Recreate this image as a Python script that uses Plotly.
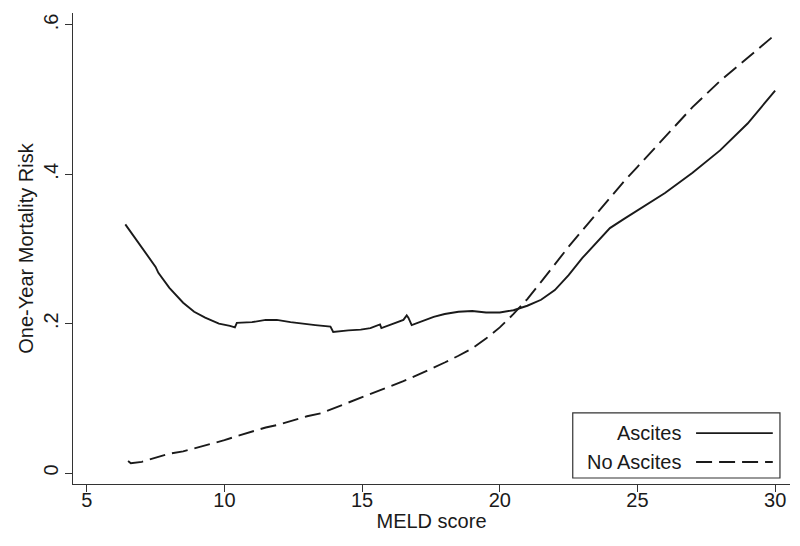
import plotly.graph_objects as go

# MELD score vs one-year mortality risk
meld_asc = [6.4, 6.8, 7.2, 7.5, 7.6, 8.0, 8.5, 8.9, 9.3, 9.8, 10.2, 10.38, 10.45, 11.0, 11.5,
            11.9, 12.4, 12.8, 13.3, 13.85, 13.95, 14.5, 14.95, 15.3, 15.65, 15.7, 16.1, 16.5,
            16.62, 16.68, 16.8, 17.2, 17.6, 18.0, 18.5, 19.0, 19.5, 20.0, 20.5, 21.0, 21.5,
            22.0, 22.5, 23.0, 23.5, 24.0, 24.5, 25.0, 26.0, 27.0, 28.0, 29.0, 30.0]
risk_asc = [0.333, 0.312, 0.292, 0.276, 0.268, 0.248, 0.228, 0.216, 0.208, 0.200, 0.197, 0.195,
            0.201, 0.202, 0.205, 0.205, 0.202, 0.200, 0.198, 0.196, 0.189, 0.191, 0.192, 0.194,
            0.199, 0.194, 0.200, 0.205, 0.211, 0.208, 0.198, 0.204, 0.209, 0.213, 0.216, 0.217,
            0.215, 0.215, 0.218, 0.224, 0.232, 0.245, 0.265, 0.288, 0.308, 0.328, 0.340, 0.352,
            0.375, 0.402, 0.432, 0.468, 0.512]

meld_noasc = [6.5, 6.6, 7.0, 7.5, 8.0, 8.5, 9.0, 9.5, 10.0, 10.5, 11.0, 11.5, 12.0, 12.5, 13.0,
              13.5, 14.0, 14.5, 15.0, 15.5, 16.0, 16.5, 17.0, 17.5, 18.0, 18.5, 19.0, 19.5,
              20.0, 20.5, 21.0, 21.5, 22.0, 22.5, 23.0, 23.5, 24.0, 24.5, 25.0, 26.0, 27.0,
              28.0, 29.0, 30.0]
risk_noasc = [0.016, 0.013, 0.015, 0.020, 0.026, 0.029, 0.034, 0.038, 0.044, 0.050, 0.056,
              0.061, 0.065, 0.071, 0.076, 0.080, 0.087, 0.094, 0.101, 0.108, 0.116, 0.123,
              0.131, 0.139, 0.148, 0.157, 0.167, 0.180, 0.195, 0.213, 0.233, 0.256, 0.280,
              0.303, 0.325, 0.347, 0.369, 0.390, 0.410, 0.450, 0.490, 0.525, 0.556, 0.587]

x_ticks = [5, 10, 15, 20, 25, 30]
y_ticks = [0, 0.2, 0.4, 0.6]
y_ticktext = ["0", ".2", ".4", ".6"]

ink = "#1a1a1a"
font = "Liberation Sans, Arial, sans-serif"
dash = "16px,7px"
fs = 20

fig = go.Figure()
fig.add_trace(go.Scatter(x=meld_asc, y=risk_asc, mode="lines", name="Ascites",
                         line=dict(color=ink, width=1.9)))
fig.add_trace(go.Scatter(x=meld_noasc, y=risk_noasc, mode="lines", name="No Ascites",
                         line=dict(color=ink, width=1.9, dash=dash)))

# page body has an 8px margin, so the figure is a bit smaller than the window
fig.update_layout(
    width=792, height=538,
    margin=dict(l=65, r=10, t=5, b=62),
    paper_bgcolor="white", plot_bgcolor="white",
    showlegend=False,
    font=dict(family=font, size=fs, color=ink),
)
fig.update_xaxes(range=[4.5, 30.54], tickvals=x_ticks, showgrid=False, zeroline=False,
                 automargin=False, ticklabelstandoff=-9,
                 showline=True, linecolor="#333", linewidth=1.2,
                 ticks="outside", ticklen=7, tickcolor="#333",
                 title=dict(text="MELD score", standoff=3, font=dict(size=fs)))
fig.update_yaxes(range=[-0.0147, 0.616], tickvals=y_ticks, ticktext=y_ticktext, tickangle=-90,
                 showgrid=False, zeroline=False, automargin=False, ticklabelstandoff=-1,
                 showline=True, linecolor="#333", linewidth=1.2,
                 ticks="outside", ticklen=7, tickcolor="#333",
                 title=dict(text="One-Year Mortality Risk", standoff=0, font=dict(size=fs)))

# legend box drawn Stata-style: label on the left, line sample on the right
fig.add_shape(type="rect", xref="paper", yref="paper", x0=0.697, x1=0.986, y0=0.0127, y1=0.151,
              line=dict(color="#333", width=1.2), fillcolor="white")
for label, yy, dsh in [("Ascites", 0.108, "solid"), ("No Ascites", 0.0467, dash)]:
    fig.add_annotation(xref="paper", yref="paper", x=0.851, y=yy, text=label, showarrow=False,
                       xanchor="right", yanchor="middle", font=dict(size=fs, color=ink))
    fig.add_shape(type="line", xref="paper", yref="paper", x0=0.869, x1=0.976, y0=yy, y1=yy,
                  line=dict(color=ink, width=1.9, dash=dsh))

fig.write_html("out.html")
